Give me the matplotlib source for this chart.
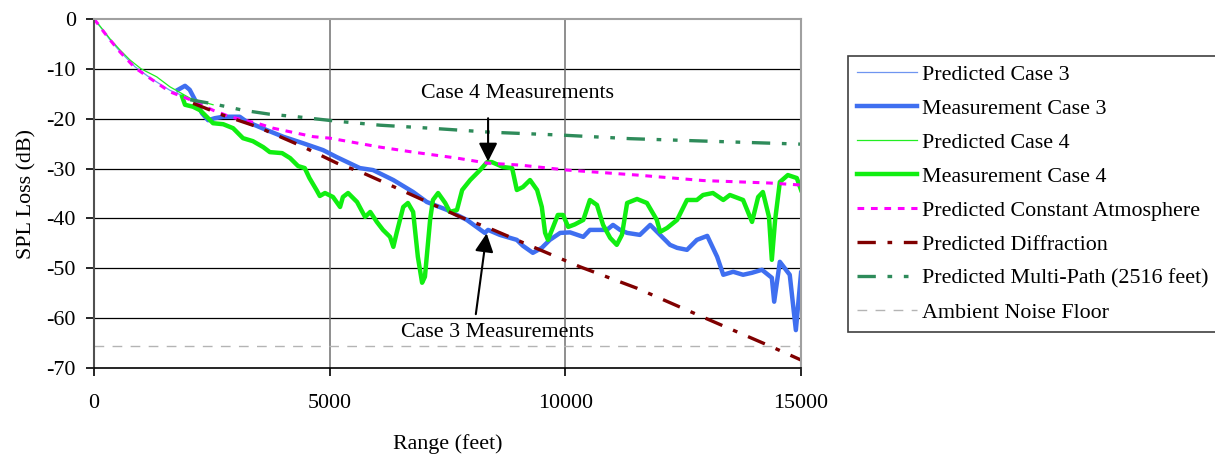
import numpy as np
import matplotlib
matplotlib.use("Agg")
import matplotlib.pyplot as plt

plt.rcParams['font.family'] = ['Liberation Serif', 'DejaVu Serif']
plt.rcParams['axes.unicode_minus'] = False

# range (feet) / SPL loss (dB) for each series
pred3_x = [0, 100, 200, 340, 550, 870, 1190, 1610, 2040, 2300]
pred3_y = [0, -1.2, -2.4, -4.2, -6.5, -9.6, -11.8, -14.3, -16.0, -17.0]

meas3_x = [1780, 1930, 2030, 2180, 2290, 2420, 2560, 2740, 3090, 3240, 3670, 4010,
           4430, 4860, 5150, 5640, 5920, 6350, 6770, 7060, 7490, 7910, 8290, 8360,
           8610, 8970, 9100, 9310, 9500, 9670, 9890, 10100, 10380, 10520, 10880,
           11010, 11160, 11310, 11580, 11800, 12010, 12220, 12370, 12580, 12790,
           13010, 13220, 13350, 13560, 13770, 13960, 14170, 14380, 14430, 14550,
           14760, 14890, 15000]
meas3_y = [-14.2, -13.4, -14.2, -16.9, -18.9, -20.3, -19.9, -19.6, -19.6, -20.6,
           -22.3, -23.6, -24.9, -26.3, -27.7, -29.9, -30.3, -32.3, -34.7, -36.7,
           -38.3, -40.3, -42.9, -42.3, -43.3, -44.3, -45.5, -46.9, -45.9, -44.3,
           -42.9, -42.8, -43.7, -42.3, -42.3, -41.3, -42.3, -42.9, -43.3, -41.3,
           -43.3, -45.3, -45.9, -46.3, -44.3, -43.5, -47.7, -51.3, -50.7, -51.3,
           -50.9, -50.3, -51.9, -56.7, -48.7, -51.3, -62.4, -50.9]

pred4_x = [0, 100, 200, 340, 550, 760, 1000, 1330, 1610, 2040, 2300, 2525]
pred4_y = [0, -1.1, -2.3, -4.0, -6.2, -8.2, -10.0, -11.6, -13.6, -15.9, -16.6, -17.2]

meas4_x = [1870, 1930, 2100, 2250, 2390, 2525, 2740, 2950, 3160, 3370, 3590, 3730,
           3990, 4160, 4330, 4470, 4570, 4720, 4790, 4900, 5070, 5220, 5280, 5390,
           5580, 5750, 5860, 6000, 6130, 6280, 6350, 6420, 6560, 6660, 6770, 6870,
           6960, 7020, 7130, 7190, 7300, 7450, 7550, 7700, 7810, 7980, 8190, 8340,
           8440, 8680, 8870, 8970, 9100, 9250, 9400, 9500, 9570, 9630, 9740, 9840,
           9950, 10060, 10200, 10380, 10520, 10670, 10800, 10950, 11090, 11200,
           11310, 11520, 11730, 11940, 12010, 12160, 12370, 12580, 12790, 12920,
           13130, 13350, 13490, 13770, 13960, 14090, 14190, 14320, 14380, 14450,
           14550, 14720, 14910, 15000]
meas4_y = [-15.6, -17.2, -17.6, -18.3, -19.6, -20.9, -21.1, -21.9, -23.9, -24.5,
           -25.7, -26.7, -26.9, -27.9, -29.5, -29.9, -31.9, -34.3, -35.5, -34.9,
           -35.7, -37.7, -35.7, -34.9, -36.7, -39.7, -38.7, -40.7, -42.3, -43.7,
           -45.7, -42.9, -37.7, -36.9, -38.7, -47.7, -52.9, -51.7, -40.3, -36.3,
           -34.9, -36.9, -38.7, -38.3, -34.3, -32.3, -30.3, -28.7, -28.7, -29.7,
           -29.9, -34.3, -33.7, -32.3, -34.3, -37.7, -42.9, -44.3, -41.7, -39.3,
           -39.3, -41.7, -41.2, -40.3, -36.3, -37.3, -41.3, -43.9, -45.3, -43.3,
           -36.9, -36.1, -36.9, -40.3, -42.7, -41.9, -40.3, -36.3, -36.3, -35.3,
           -34.9, -36.3, -35.3, -36.3, -40.7, -35.7, -34.7, -39.7, -48.3, -40.3,
           -32.7, -31.3, -31.9, -34.3]

const_x = [0, 100, 200, 340, 550, 870, 1190, 1610, 2040, 2525, 2885, 3460, 3800,
           4650, 5000, 6070, 6770, 7700, 8340, 9040, 10035, 11520, 12920, 14340, 15000]
const_y = [0, -1.2, -2.5, -4.2, -6.6, -9.8, -11.9, -14.6, -16.2, -18.3, -19.6,
           -20.9, -21.9, -23.6, -23.9, -25.7, -26.7, -27.9, -28.9, -29.3, -30.3,
           -31.3, -32.4, -32.9, -33.3]

diff_x = [2100, 2740, 3460, 4430, 5150, 5710, 6350, 7770, 8470, 9460, 10310,
          11520, 12920, 14340, 15000]
diff_y = [-16.9, -19.3, -21.6, -25.6, -28.9, -30.9, -33.6, -39.7, -42.3, -46.3,
          -49.7, -54.0, -59.8, -65.6, -68.4]

multi_x = [2040, 2460, 2820, 3160, 3730, 4300, 5150, 6070, 7130, 8400, 9950,
           11370, 13000, 15000]
multi_y = [-16.2, -16.9, -17.6, -18.3, -19.1, -19.6, -20.5, -21.3, -21.9, -22.7,
           -23.3, -24.0, -24.5, -25.1]

noise_x = [0, 15000]
noise_y = [-65.5, -65.5]

fig = plt.figure(figsize=(12.15, 4.58), dpi=100)
ax = fig.add_axes([0.0774, 0.1965, 0.5819, 0.762])

FS = 15.8
ax.plot(pred3_x, pred3_y, color='#6f95f0', lw=0.9, label='Predicted Case 3')
ax.plot(meas3_x, meas3_y, color='#3f6ff0', lw=3.2, label='Measurement Case 3')
ax.plot(pred4_x, pred4_y, color='#22ee22', lw=0.9, label='Predicted Case 4')
ax.plot(meas4_x, meas4_y, color='#11ee11', lw=3.2, label='Measurement Case 4')
ax.plot(const_x, const_y, color='#ff00ff', lw=2.2, dashes=(2.2, 2.2),
        label='Predicted Constant Atmosphere')
ax.plot(diff_x, diff_y, color='#800000', lw=2.4, dashes=(5.5, 3.5, 1.4, 3.5),
        label='Predicted Diffraction')
ax.plot(multi_x, multi_y, color='#2e8b5a', lw=2.4, dashes=(5.5, 3.5, 1.4, 3.5, 1.4, 3.5),
        label='Predicted Multi-Path (2516 feet)')
ax.plot(noise_x, noise_y, color='#b4b4b4', lw=1.0, dashes=(7, 6),
        label='Ambient Noise Floor')

ax.set_xlim(0, 15000)
ax.set_ylim(-70, 0)
ax.set_xticks([0, 5000, 10000, 15000])
ax.set_yticks(np.arange(-70, 1, 10))
ax.tick_params(labelsize=FS, direction='out', length=6, width=1.2)
ax.tick_params(axis='x', pad=13)
ax.tick_params(axis='y', pad=7)
ax.set_xlabel('Range (feet)', fontsize=FS, labelpad=15)
ax.set_ylabel('SPL Loss (dB)', fontsize=FS, labelpad=7)

for y in range(-60, 0, 10):
    ax.axhline(y, color='black', lw=0.9, zorder=0)
for x in (5000, 10000):
    ax.axvline(x, color='#707070', lw=1.1, zorder=0)

ax.spines['left'].set_color('#505050')
ax.spines['left'].set_linewidth(1.5)
ax.spines['bottom'].set_color('black')
ax.spines['bottom'].set_linewidth(1.2)
for s in ('top', 'right'):
    ax.spines[s].set_color('#a0a0a0')
    ax.spines[s].set_linewidth(1.5)

# arrows pointing at the measured curves
ax.annotate('Case 4 Measurements', xy=(8360, -28.6), xytext=(8990, -14.9),
            fontsize=FS, ha='center', va='center')
ax.annotate('', xy=(8360, -28.6), xytext=(8360, -19.9),
            arrowprops=dict(arrowstyle='-|>', color='black', lw=1.5,
                            mutation_scale=28, shrinkA=0, shrinkB=0))
ax.annotate('Case 3 Measurements', xy=(8330, -43.0), xytext=(8570, -62.8),
            fontsize=FS, ha='center', va='center')
ax.annotate('', xy=(8330, -43.0), xytext=(8100, -59.2),
            arrowprops=dict(arrowstyle='-|>', color='black', lw=1.5,
                            mutation_scale=28, shrinkA=0, shrinkB=0))

leg = ax.legend(loc='upper left', bbox_to_anchor=(0.698, 0.8777),
                bbox_transform=fig.transFigure, borderaxespad=0, fontsize=FS,
                frameon=True, fancybox=False, edgecolor='#404040', framealpha=1,
                handlelength=2.75, handletextpad=0.22, borderpad=0.4,
                labelspacing=0.62)
leg.get_frame().set_linewidth(1.2)

fig.savefig('out.png', dpi=100)
